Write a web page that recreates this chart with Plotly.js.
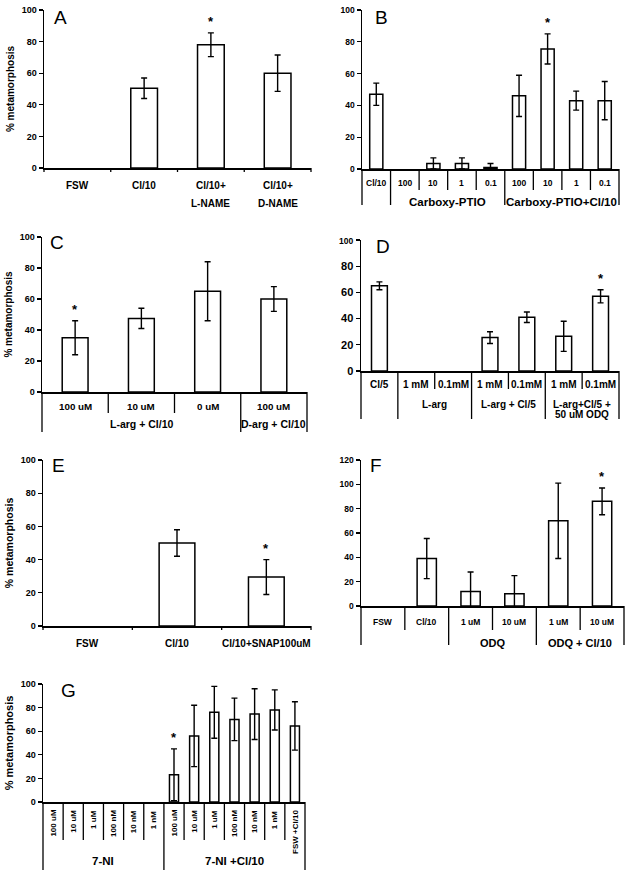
<!DOCTYPE html>
<html>
<head>
<meta charset="utf-8">
<script src="https://cdn.plot.ly/plotly-3.0.1.min.js"></script>
<style>html,body{margin:0;padding:0;background:#fff;}#chart{width:632px;height:877px;}</style>
</head>
<body>
<div id="chart"></div>
<script>
// ---------------- DATA ----------------
// Panel A
const catsA = ['FSW', 'Cl/10', 'Cl/10+<br>L-NAME', 'Cl/10+<br>D-NAME'];
const valsA = [0, 50.5, 78, 60];
const errA  = [0, 6.5, 7.5, 11.5];
const sigA  = [2];
const groupLabelsA = null, groupSizesA = null;

// Panel B
const catsB = ['Cl/10', '100', '10', '1', '0.1', '100', '10', '1', '0.1'];
const valsB = [47, 0, 3.5, 3.5, 1, 46, 75.5, 43, 43];
const errB  = [7, 0, 3.5, 3.5, 2.5, 13, 9.5, 6, 12];
const sigB  = [6];
const groupLabelsB = ['', 'Carboxy-PTIO', 'Carboxy-PTIO+Cl/10'];
const groupSizesB  = [1, 4, 4];

// Panel C
const catsC = ['100 uM', '10 uM', '0 uM', '100 uM'];
const valsC = [35, 47.5, 65, 60];
const errC  = [11, 6.5, 19, 8];
const sigC  = [0];
const groupLabelsC = ['L-arg + Cl/10', 'D-arg + Cl/10'];
const groupSizesC  = [3, 1];

// Panel D
const catsD = ['Cl/5', '1 mM', '0.1mM', '1 mM', '0.1mM', '1 mM', '0.1mM'];
const valsD = [65, 0, 0, 25.5, 41, 26.5, 57];
const errD  = [3, 0, 0, 4.5, 4, 11.5, 5];
const sigD  = [6];
const groupLabelsD = ['', 'L-arg', 'L-arg + Cl/5', 'L-arg+Cl/5 +<br>50 uM ODQ'];
const groupSizesD  = [1, 2, 2, 2];

// Panel E
const catsE = ['FSW', 'Cl/10', 'Cl/10+SNAP100uM'];
const valsE = [0, 50, 29.5];
const errE  = [0, 8, 10.5];
const sigE  = [2];
const groupLabelsE = null, groupSizesE = null;

// Panel F
const catsF = ['FSW', 'Cl/10', '1 uM', '10 uM', '1 uM', '10 uM'];
const valsF = [0, 39, 12, 10, 70, 86];
const errF  = [0, 16.5, 16, 15, 31, 11];
const sigF  = [5];
const groupLabelsF = ['', 'ODQ', 'ODQ + Cl/10'];
const groupSizesF  = [2, 2, 2];

// Panel G
const catsG = ['100 uM', '10 uM', '1 uM', '100 nM', '10 nM', '1 nM',
               '100 uM', '10 uM', '1 uM', '100 nM', '10 nM', '1 nM', 'FSW +Cl/10'];
const valsG = [0, 0, 0, 0, 0, 0, 23, 56, 76, 70, 74.5, 78, 64.5];
const errG  = [0, 0, 0, 0, 0, 0, 22, 26, 22, 18, 21.5, 17, 20.5];
const sigG  = [6];
const groupLabelsG = ['7-NI', '7-NI +Cl/10'];
const groupSizesG  = [6, 7];

const yTicks100 = [0, 20, 40, 60, 80, 100];
const yTicks120 = [0, 20, 40, 60, 80, 100, 120];
const yTitle = '% metamorphosis';

// ---------------- STYLE / LAYOUT ----------------
const W = 632, H = 877;
const FONT = 'Liberation Sans, Arial, sans-serif';

const panels = [
  {letter:'A', cats:catsA, vals:valsA, err:errA, sig:sigA, gl:groupLabelsA, gs:groupSizesA, ticks:yTicks100,
   x0:44, x1:311, y0:10, y1:168, bw:0.4, tickFont:9, ytitle:true, titleFont:10,
   catY:17, catDy:18, catFont:10, tickSep:4, lx:60, ly:18},
  {letter:'B', cats:catsB, vals:valsB, err:errB, sig:sigB, gl:groupLabelsB, gs:groupSizesB, ticks:yTicks100,
   x0:362, x1:619, y0:10, y1:169, bw:0.46, tickFont:8.5, ytitle:false,
   catY:14, catDy:10, catFont:8.5, groupY:33, groupDy:10, groupFont:11.5, shortLen:21, longLen:36, lx:381, ly:18},
  {letter:'C', cats:catsC, vals:valsC, err:errC, sig:sigC, gl:groupLabelsC, gs:groupSizesC, ticks:yTicks100,
   x0:42, x1:307, y0:237, y1:392, bw:0.39, tickFont:9, ytitle:true, titleFont:10,
   catY:14, catDy:10, catFont:9.8, groupY:32, groupDy:10, groupFont:10.5, shortLen:21, longLen:40, lx:57, ly:243},
  {letter:'D', cats:catsD, vals:valsD, err:errD, sig:sigD, gl:groupLabelsD, gs:groupSizesD, ticks:yTicks100,
   x0:361, x1:619, y0:240, y1:371, bw:0.43, tickFont:11, ytitle:false,
   catY:13, catDy:10, catFont:10, groupY:33, groupDy:10, groupFont:10, shortLen:18, longLen:48, lx:383, ly:246},
  {letter:'E', cats:catsE, vals:valsE, err:errE, sig:sigE, gl:groupLabelsE, gs:groupSizesE, ticks:yTicks100,
   x0:43, x1:311, y0:460, y1:626, bw:0.4, tickFont:9, ytitle:true, titleFont:10.5,
   catY:17, catDy:18, catFont:10, tickSep:4, lx:58, ly:465},
  {letter:'F', cats:catsF, vals:valsF, err:errF, sig:sigF, gl:groupLabelsF, gs:groupSizesF, ticks:yTicks120,
   x0:361, x1:624, y0:460, y1:606, bw:0.44, tickFont:8.5, ytitle:false,
   catY:16, catDy:10, catFont:8.5, groupY:37, groupDy:10, groupFont:11, shortLen:24, longLen:39, lx:376, ly:465},
  {letter:'G', cats:catsG, vals:valsG, err:errG, sig:sigG, gl:groupLabelsG, gs:groupSizesG, ticks:yTicks100,
   x0:43, x1:305, y0:684, y1:802, bw:0.45, tickFont:9, ytitle:true, titleFont:11,
   catY:6, catFont:8, rotate:true, groupY:59, groupDy:10, groupFont:11.5, shortLen:38, longLen:68, lx:68, ly:690}
];

const traces = [];
const annotations = [];
const shapes = [];
const layout = {
  width: W, height: H,
  margin: {l:0, r:0, t:0, b:0, pad:0},
  paper_bgcolor: '#fff', plot_bgcolor: '#fff',
  showlegend: false,
  font: {family: FONT, color: '#000'},
  bargap: 0
};

panels.forEach((p, k) => {
  const suf = k === 0 ? '' : String(k + 1);
  const xa = 'x' + suf, ya = 'y' + suf;
  const n = p.cats.length;
  const idx = p.cats.map((_, i) => i);
  const ymax = p.ticks[p.ticks.length - 1];

  traces.push({
    type: 'bar', x: idx, y: p.vals, width: p.bw, xaxis: xa, yaxis: ya,
    marker: {color: 'rgba(255,255,255,1)', line: {color: '#000', width: p.vals.map(v => v > 0 ? 1.5 : 0)}},
    error_y: {type: 'data', array: p.err.map(e => e > 0 ? e : NaN), visible: true,
              color: '#000', thickness: 1.4, width: 3},
    hoverinfo: 'skip'
  });

  layout['xaxis' + suf] = {
    domain: [p.x0 / W, p.x1 / W], anchor: ya, range: [-0.5, n - 0.5],
    showline: true, linecolor: '#000', linewidth: 1.5, showgrid: false, zeroline: false,
    showticklabels: false, ticks: '', fixedrange: true
  };
  const yax = {
    domain: [1 - p.y1 / H, 1 - p.y0 / H], anchor: xa, range: [0, ymax],
    showline: true, linecolor: '#000', linewidth: 1.5, showgrid: false, zeroline: false,
    ticks: 'outside', ticklen: 4, tickwidth: 1.3, tickcolor: '#000',
    tickvals: p.ticks,
    tickfont: {family: FONT, size: p.tickFont, weight: 'bold', color: '#000'},
    fixedrange: true
  };
  if (p.letter === 'D') {
    yax.ticktext = p.ticks.map(t => t === 100 ? '<span style="font-size:8.5px">' + t + '</span>' : String(t));
  }
  if (p.ytitle) {
    yax.title = {text: yTitle, font: {family: FONT, size: p.titleFont, weight: 'bold', color: '#000'}, standoff: 5};
  }
  layout['yaxis' + suf] = yax;

  // category labels
  p.cats.forEach((c, i) => {
    c.split('<br>').forEach((line, j) => {
      const a = {
        xref: xa, yref: ya, x: i, y: 0, text: '<b>' + line + '</b>', showarrow: false,
        font: {family: FONT, size: p.catFont, color: '#000'}, xanchor: 'center'
      };
      if (p.rotate) {
        a.textangle = -90; a.yanchor = 'top'; a.yshift = -p.catY;
      } else {
        a.yanchor = 'middle'; a.yshift = -(p.catY + j * p.catDy);
      }
      annotations.push(a);
    });
  });

  // separators are placed in axis-domain units (boundary b of n categories = b/n)
  const lineStyle = {color: '#000', width: 1.3};
  const sep = (b, len) => shapes.push({
    type: 'line', xref: xa + ' domain', yref: ya + ' domain', x0: b / n, x1: b / n,
    ysizemode: 'pixel', yanchor: 0, y0: 0, y1: -len, line: lineStyle, layer: 'above'
  });
  if (p.gs) {
    const bounds = new Set([0]);
    let start = 0;
    p.gs.forEach((s, g) => {
      const end = start + s - 1;
      const lbl = p.gl[g];
      if (lbl) {
        lbl.split('<br>').forEach((line, j) => {
          annotations.push({
            xref: xa, yref: ya, x: (start + end) / 2, y: 0, yshift: -(p.groupY + j * p.groupDy),
            text: '<b>' + line + '</b>', showarrow: false, xanchor: 'center', yanchor: 'middle',
            font: {family: FONT, size: p.groupFont, color: '#000'}
          });
        });
      }
      start += s;
      bounds.add(start);
    });
    for (let b = 0; b <= n; b++) sep(b, bounds.has(b) ? p.longLen : p.shortLen);
  } else {
    for (let b = 0; b <= n; b++) sep(b, p.tickSep);
  }

  // significance asterisks
  p.sig.forEach(i => {
    annotations.push({
      xref: xa, yref: ya, x: i, y: p.vals[i] + p.err[i], yshift: 2,
      text: '<b>*</b>', showarrow: false, xanchor: 'center', yanchor: 'bottom',
      font: {family: FONT, size: 13, color: '#000'}
    });
  });

  // panel letter
  annotations.push({
    xref: 'paper', yref: 'paper', x: p.lx / W, y: 1 - p.ly / H, text: p.letter,
    showarrow: false, xanchor: 'center', yanchor: 'middle',
    font: {family: FONT, size: 19, color: '#000'}
  });
});

layout.annotations = annotations;
layout.shapes = shapes;

Plotly.newPlot('chart', traces, layout, {staticPlot: true, displayModeBar: false});
</script>
</body>
</html>
